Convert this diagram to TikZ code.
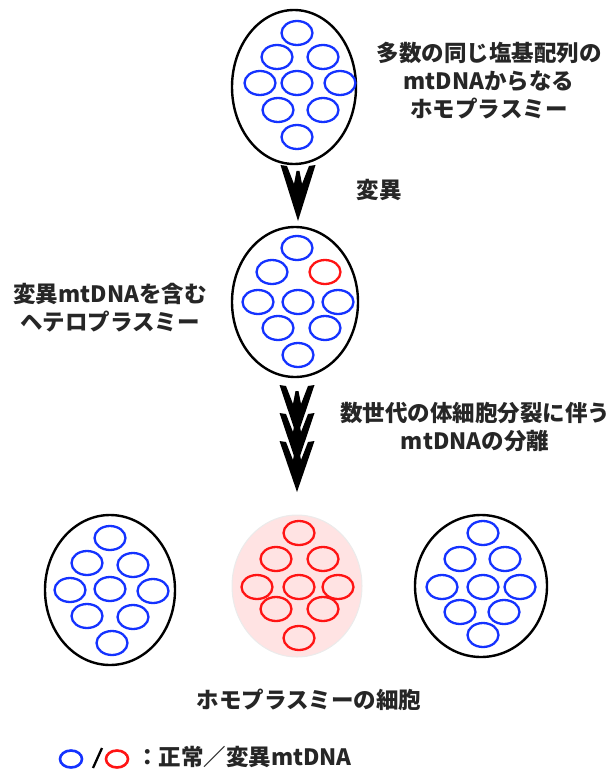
\documentclass[tikz,border=0pt]{standalone}
\usepackage{fontspec}
\usetikzlibrary{shapes.geometric}
\newfontfamily\jp{Noto Sans CJK JP}
\begin{document}
\begin{tikzpicture}[x=1pt,y=-1pt,
  cellwall/.style={draw=black,line width=2.4pt,fill=white},
  pinkcell/.style={draw=black!8,line width=1pt,fill=red!11},
  mtb/.style={draw={rgb,255:red,20;green,50;blue,255},line width=2.3pt},
  mtr/.style={draw={rgb,255:red,255;green,20;blue,20},line width=2.3pt},
  lbl/.style={font=\jp\bfseries\fontsize{22.5}{28}\selectfont,text=black!85,align=center,inner sep=0pt}]
\useasboundingbox (0,0) rectangle (614,778);

% one mtDNA ring
\newcommand\ring[3]{\draw[#3] (#1,#2) ellipse[x radius=15.5, y radius=12];}
% one fletched chevron of a downward arrow: top centre (x,y), height h
\newcommand\chev[3]{\fill[black] (#1-17.5,#2) -- (#1,#2+#3) -- (#1+17.5,#2) -- (#1+11,#2+1) -- (#1+4,#2+19) -- (#1+1.5,#2+6) -- (#1-1.5,#2+6) -- (#1-4,#2+19) -- (#1-11,#2+1) -- cycle;}

% cells
\node[cellwall,ellipse,minimum width=124,minimum height=154,inner sep=0] (A) at (294,87) {};
\node[cellwall,ellipse,minimum width=126,minimum height=150,inner sep=0] (B) at (295,302) {};
\node[cellwall,ellipse,minimum width=130,minimum height=150,inner sep=0] (C) at (110,590) {};
\node[pinkcell,ellipse,minimum width=130,minimum height=142,inner sep=0] (D) at (297,586) {};
\node[cellwall,ellipse,minimum width=132,minimum height=142,inner sep=0] (E) at (481,586) {};

% homoplasmic parent cell
\foreach \x/\y in {297/33,277/57,323/57,260/83,297/83,340/83,278/110,323/110,297/137} {\ring{\x}{\y}{mtb}}
% heteroplasmic cell
\foreach \x/\y in {297/248,272/272,258/302,298/302,338/302,278/328,325/328,298/355} {\ring{\x}{\y}{mtb}}
\ring{325}{272}{mtr}
% daughter cells
\foreach \x/\y in {110/538,87/563,133/565,70/590,110/589,153/591,87/616,133/617,112/643} {\ring{\x}{\y}{mtb}}
\foreach \x/\y in {299/533,276/559,323/559,257/587,299/587,338/587,276/609,323/609,299/638} {\ring{\x}{\y}{mtr}}
\foreach \x/\y in {483/533,460/559,505/559,442/587,483/587,520/587,460/612,504/612,483/635} {\ring{\x}{\y}{mtb}}

% arrows
\chev{298}{165}{56}
\chev{297}{385}{52}
\chev{297}{413}{52}
\chev{297}{441}{51}

% labels
\node[lbl] (tA) at (489,81) {多数の同じ塩基配列の\\mtDNAからなる\\ホモプラスミー};
\node[lbl] (tm) at (379,190) {変異};
\node[lbl] (tB) at (110,308) {変異mtDNAを含む\\ヘテロプラスミー};
\node[lbl] (ts) at (475,427) {数世代の体細胞分裂に伴う\\mtDNAの分離};
\node[lbl] (tH) at (309,700) {ホモプラスミーの細胞};

% legend
\draw[mtb,line width=2.6pt] (71,759) ellipse[x radius=11, y radius=8.5];
\draw[black,line width=2.3pt] (93,768) -- (102,748);
\draw[mtr,line width=2.6pt] (117,759) ellipse[x radius=11, y radius=8.5];
\node[lbl,anchor=west] (leg) at (136,757) {：正常／変異mtDNA};
\end{tikzpicture}
\end{document}
